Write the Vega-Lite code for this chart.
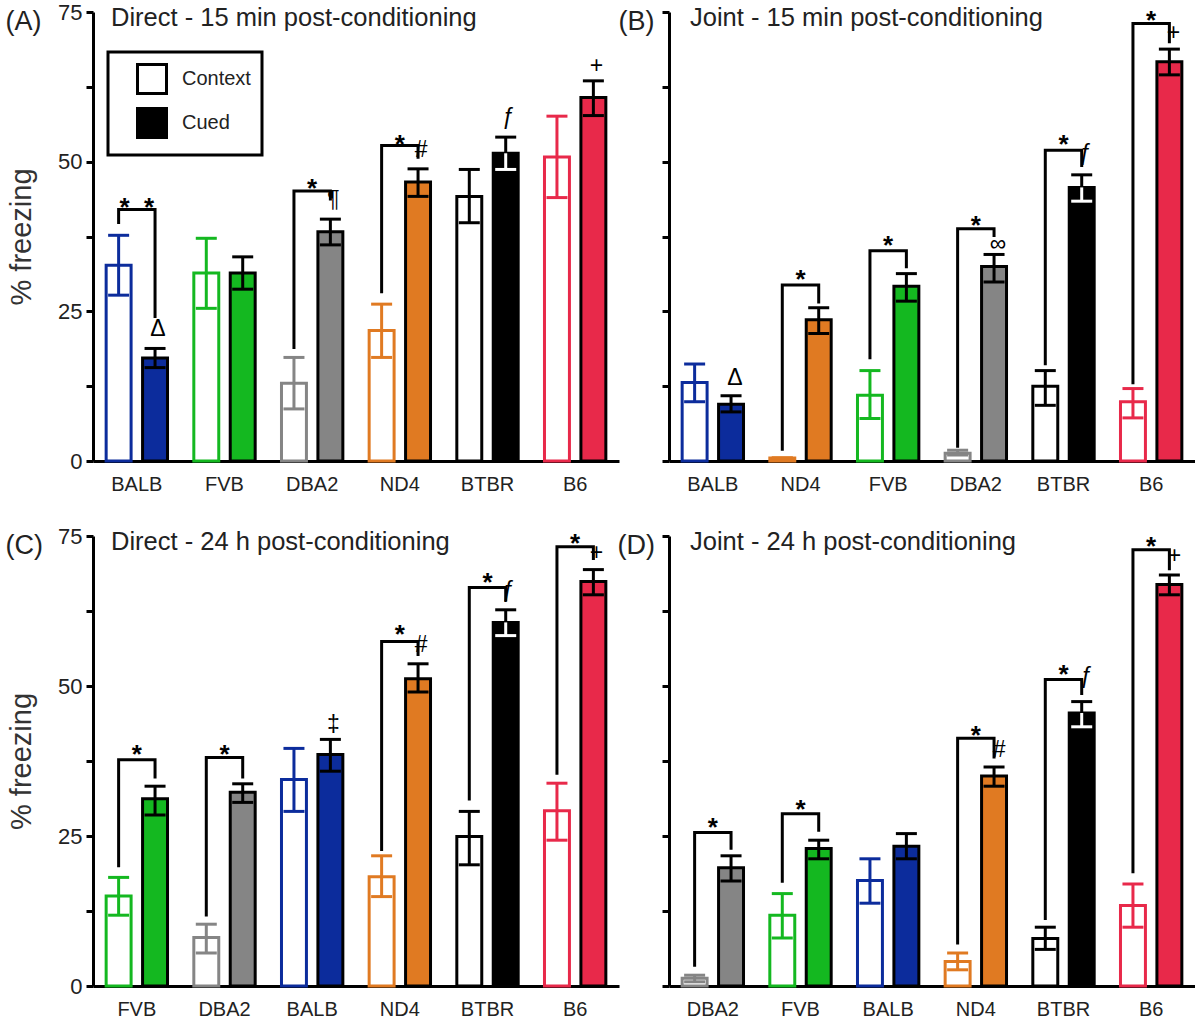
{
  "$schema": "https://vega.github.io/schema/vega-lite/v6.json",
  "padding": {"left": 5, "top": 1, "right": 0, "bottom": 0},
  "background": "white",
  "config": {
    "font": "Liberation Sans",
    "view": {"stroke": null},
    "axisY": {"labelExpr": "datum.value % 25 === 0 ? datum.label : ''", "tickSize": 7, "tickWidth": 3, "tickColor": "black", "domainColor": "black", "domainWidth": 3, "labelFontSize": 22, "labelColor": "#222", "labelPadding": 4, "grid": false, "titleFontSize": 29, "titleFontWeight": "normal", "titleColor": "#333", "titlePadding": 21},
    "axisX": {"ticks": false, "tickSize": 0, "domainColor": "black", "domainWidth": 3, "labelFontSize": 20, "labelColor": "#222", "labelPadding": 13, "labelAngle": 0, "grid": false, "titleFontSize": 27, "titleFontWeight": "normal", "titleColor": "#222", "titleAngle": 0, "titleAlign": "left", "titleBaseline": "alphabetic", "titleY": -432},
    "title": {"anchor": "start", "frame": "group", "fontSize": 25.5, "fontWeight": "normal", "color": "#222"}
  },
  "datasets": {
    "bars": [
      {"panel": "A", "strain": "BALB", "cond": "Context", "mean": 32.7, "lo": 27.7, "hi": 37.7},
      {"panel": "A", "strain": "BALB", "cond": "Cued", "mean": 17.2, "lo": 15.6, "hi": 18.8},
      {"panel": "A", "strain": "FVB", "cond": "Context", "mean": 31.4, "lo": 25.5, "hi": 37.2},
      {"panel": "A", "strain": "FVB", "cond": "Cued", "mean": 31.4, "lo": 28.7, "hi": 34.1},
      {"panel": "A", "strain": "DBA2", "cond": "Context", "mean": 13.0, "lo": 8.7, "hi": 17.3},
      {"panel": "A", "strain": "DBA2", "cond": "Cued", "mean": 38.3, "lo": 36.1, "hi": 40.4},
      {"panel": "A", "strain": "ND4", "cond": "Context", "mean": 21.8, "lo": 17.3, "hi": 26.2},
      {"panel": "A", "strain": "ND4", "cond": "Cued", "mean": 46.6, "lo": 44.2, "hi": 48.8},
      {"panel": "A", "strain": "BTBR", "cond": "Context", "mean": 44.2, "lo": 39.8, "hi": 48.7},
      {"panel": "A", "strain": "BTBR", "cond": "Cued", "mean": 51.4, "lo": 48.7, "hi": 54.1},
      {"panel": "A", "strain": "B6", "cond": "Context", "mean": 50.8, "lo": 44.0, "hi": 57.6},
      {"panel": "A", "strain": "B6", "cond": "Cued", "mean": 60.7, "lo": 57.7, "hi": 63.5},
      {"panel": "B", "strain": "BALB", "cond": "Context", "mean": 13.1, "lo": 9.9, "hi": 16.2},
      {"panel": "B", "strain": "BALB", "cond": "Cued", "mean": 9.5, "lo": 8.2, "hi": 10.9},
      {"panel": "B", "strain": "ND4", "cond": "Context", "mean": 0.5, "lo": 0.5, "hi": 0.5},
      {"panel": "B", "strain": "ND4", "cond": "Cued", "mean": 23.6, "lo": 21.3, "hi": 25.6},
      {"panel": "B", "strain": "FVB", "cond": "Context", "mean": 11.0, "lo": 7.1, "hi": 15.1},
      {"panel": "B", "strain": "FVB", "cond": "Cued", "mean": 29.2, "lo": 26.7, "hi": 31.3},
      {"panel": "B", "strain": "DBA2", "cond": "Context", "mean": 1.3, "lo": 1.0, "hi": 1.8},
      {"panel": "B", "strain": "DBA2", "cond": "Cued", "mean": 32.5, "lo": 29.9, "hi": 34.5},
      {"panel": "B", "strain": "BTBR", "cond": "Context", "mean": 12.5, "lo": 9.3, "hi": 15.1},
      {"panel": "B", "strain": "BTBR", "cond": "Cued", "mean": 45.7, "lo": 43.4, "hi": 47.8},
      {"panel": "B", "strain": "B6", "cond": "Context", "mean": 9.9, "lo": 7.2, "hi": 12.1},
      {"panel": "B", "strain": "B6", "cond": "Cued", "mean": 66.7, "lo": 64.5, "hi": 68.8},
      {"panel": "C", "strain": "FVB", "cond": "Context", "mean": 15.0, "lo": 11.8, "hi": 18.1},
      {"panel": "C", "strain": "FVB", "cond": "Cued", "mean": 31.2, "lo": 28.5, "hi": 33.3},
      {"panel": "C", "strain": "DBA2", "cond": "Context", "mean": 8.1, "lo": 5.5, "hi": 10.3},
      {"panel": "C", "strain": "DBA2", "cond": "Cued", "mean": 32.3, "lo": 30.6, "hi": 33.7},
      {"panel": "C", "strain": "BALB", "cond": "Context", "mean": 34.4, "lo": 29.1, "hi": 39.6},
      {"panel": "C", "strain": "BALB", "cond": "Cued", "mean": 38.6, "lo": 35.8, "hi": 41.1},
      {"panel": "C", "strain": "ND4", "cond": "Context", "mean": 18.2, "lo": 14.9, "hi": 21.7},
      {"panel": "C", "strain": "ND4", "cond": "Cued", "mean": 51.2, "lo": 49.0, "hi": 53.7},
      {"panel": "C", "strain": "BTBR", "cond": "Context", "mean": 24.9, "lo": 20.2, "hi": 29.1},
      {"panel": "C", "strain": "BTBR", "cond": "Cued", "mean": 60.6, "lo": 58.4, "hi": 62.7},
      {"panel": "C", "strain": "B6", "cond": "Context", "mean": 29.2, "lo": 24.3, "hi": 33.8},
      {"panel": "C", "strain": "B6", "cond": "Cued", "mean": 67.4, "lo": 65.2, "hi": 69.4},
      {"panel": "D", "strain": "DBA2", "cond": "Context", "mean": 1.3, "lo": 0.7, "hi": 1.8},
      {"panel": "D", "strain": "DBA2", "cond": "Cued", "mean": 19.7, "lo": 17.5, "hi": 21.7},
      {"panel": "D", "strain": "FVB", "cond": "Context", "mean": 11.8, "lo": 8.0, "hi": 15.4},
      {"panel": "D", "strain": "FVB", "cond": "Cued", "mean": 22.9, "lo": 21.2, "hi": 24.3},
      {"panel": "D", "strain": "BALB", "cond": "Context", "mean": 17.6, "lo": 13.8, "hi": 21.2},
      {"panel": "D", "strain": "BALB", "cond": "Cued", "mean": 23.3, "lo": 21.2, "hi": 25.4},
      {"panel": "D", "strain": "ND4", "cond": "Context", "mean": 4.1, "lo": 2.7, "hi": 5.5},
      {"panel": "D", "strain": "ND4", "cond": "Cued", "mean": 35.0, "lo": 33.3, "hi": 36.5},
      {"panel": "D", "strain": "BTBR", "cond": "Context", "mean": 7.9, "lo": 6.1, "hi": 9.8},
      {"panel": "D", "strain": "BTBR", "cond": "Cued", "mean": 45.5, "lo": 43.2, "hi": 47.4},
      {"panel": "D", "strain": "B6", "cond": "Context", "mean": 13.4, "lo": 9.8, "hi": 17.0},
      {"panel": "D", "strain": "B6", "cond": "Cued", "mean": 66.9, "lo": 65.2, "hi": 68.5}
    ],
    "brackets": [
      {"panel": "A", "strain": "BALB", "pt": 1, "cond": "Context", "y": 39.6},
      {"panel": "A", "strain": "BALB", "pt": 2, "cond": "Context", "y": 42.0},
      {"panel": "A", "strain": "BALB", "pt": 3, "cond": "Cued", "y": 42.0},
      {"panel": "A", "strain": "BALB", "pt": 4, "cond": "Cued", "y": 23.9},
      {"panel": "A", "strain": "DBA2", "pt": 1, "cond": "Context", "y": 18.7},
      {"panel": "A", "strain": "DBA2", "pt": 2, "cond": "Context", "y": 45.1},
      {"panel": "A", "strain": "DBA2", "pt": 3, "cond": "Cued", "y": 45.1},
      {"panel": "A", "strain": "DBA2", "pt": 4, "cond": "Cued", "y": 43.5},
      {"panel": "A", "strain": "ND4", "pt": 1, "cond": "Context", "y": 28.0},
      {"panel": "A", "strain": "ND4", "pt": 2, "cond": "Context", "y": 52.7},
      {"panel": "A", "strain": "ND4", "pt": 3, "cond": "Cued", "y": 52.7},
      {"panel": "A", "strain": "ND4", "pt": 4, "cond": "Cued", "y": 50.5},
      {"panel": "B", "strain": "ND4", "pt": 1, "cond": "Context", "y": 1.7},
      {"panel": "B", "strain": "ND4", "pt": 2, "cond": "Context", "y": 29.4},
      {"panel": "B", "strain": "ND4", "pt": 3, "cond": "Cued", "y": 29.4},
      {"panel": "B", "strain": "ND4", "pt": 4, "cond": "Cued", "y": 26.3},
      {"panel": "B", "strain": "FVB", "pt": 1, "cond": "Context", "y": 17.0},
      {"panel": "B", "strain": "FVB", "pt": 2, "cond": "Context", "y": 35.1},
      {"panel": "B", "strain": "FVB", "pt": 3, "cond": "Cued", "y": 35.1},
      {"panel": "B", "strain": "FVB", "pt": 4, "cond": "Cued", "y": 32.2},
      {"panel": "B", "strain": "DBA2", "pt": 1, "cond": "Context", "y": 2.2},
      {"panel": "B", "strain": "DBA2", "pt": 2, "cond": "Context", "y": 38.8},
      {"panel": "B", "strain": "DBA2", "pt": 3, "cond": "Cued", "y": 38.8},
      {"panel": "B", "strain": "DBA2", "pt": 4, "cond": "Cued", "y": 37.4},
      {"panel": "B", "strain": "BTBR", "pt": 1, "cond": "Context", "y": 16.0},
      {"panel": "B", "strain": "BTBR", "pt": 2, "cond": "Context", "y": 51.9},
      {"panel": "B", "strain": "BTBR", "pt": 3, "cond": "Cued", "y": 51.9},
      {"panel": "B", "strain": "BTBR", "pt": 4, "cond": "Cued", "y": 49.1},
      {"panel": "B", "strain": "B6", "pt": 1, "cond": "Context", "y": 12.8},
      {"panel": "B", "strain": "B6", "pt": 2, "cond": "Context", "y": 73.1},
      {"panel": "B", "strain": "B6", "pt": 3, "cond": "Cued", "y": 73.1},
      {"panel": "B", "strain": "B6", "pt": 4, "cond": "Cued", "y": 69.8},
      {"panel": "C", "strain": "FVB", "pt": 1, "cond": "Context", "y": 19.8},
      {"panel": "C", "strain": "FVB", "pt": 2, "cond": "Context", "y": 37.7},
      {"panel": "C", "strain": "FVB", "pt": 3, "cond": "Cued", "y": 37.7},
      {"panel": "C", "strain": "FVB", "pt": 4, "cond": "Cued", "y": 34.6},
      {"panel": "C", "strain": "DBA2", "pt": 1, "cond": "Context", "y": 11.6},
      {"panel": "C", "strain": "DBA2", "pt": 2, "cond": "Context", "y": 38.1},
      {"panel": "C", "strain": "DBA2", "pt": 3, "cond": "Cued", "y": 38.1},
      {"panel": "C", "strain": "DBA2", "pt": 4, "cond": "Cued", "y": 34.6},
      {"panel": "C", "strain": "ND4", "pt": 1, "cond": "Context", "y": 22.5},
      {"panel": "C", "strain": "ND4", "pt": 2, "cond": "Context", "y": 57.4},
      {"panel": "C", "strain": "ND4", "pt": 3, "cond": "Cued", "y": 57.4},
      {"panel": "C", "strain": "ND4", "pt": 4, "cond": "Cued", "y": 55.0},
      {"panel": "C", "strain": "BTBR", "pt": 1, "cond": "Context", "y": 30.9},
      {"panel": "C", "strain": "BTBR", "pt": 2, "cond": "Context", "y": 66.4},
      {"panel": "C", "strain": "BTBR", "pt": 3, "cond": "Cued", "y": 66.4},
      {"panel": "C", "strain": "BTBR", "pt": 4, "cond": "Cued", "y": 64.1},
      {"panel": "C", "strain": "B6", "pt": 1, "cond": "Context", "y": 35.2},
      {"panel": "C", "strain": "B6", "pt": 2, "cond": "Context", "y": 73.2},
      {"panel": "C", "strain": "B6", "pt": 3, "cond": "Cued", "y": 73.2},
      {"panel": "C", "strain": "B6", "pt": 4, "cond": "Cued", "y": 71.0},
      {"panel": "D", "strain": "DBA2", "pt": 1, "cond": "Context", "y": 3.2},
      {"panel": "D", "strain": "DBA2", "pt": 2, "cond": "Context", "y": 25.6},
      {"panel": "D", "strain": "DBA2", "pt": 3, "cond": "Cued", "y": 25.6},
      {"panel": "D", "strain": "DBA2", "pt": 4, "cond": "Cued", "y": 22.7},
      {"panel": "D", "strain": "FVB", "pt": 1, "cond": "Context", "y": 17.2},
      {"panel": "D", "strain": "FVB", "pt": 2, "cond": "Context", "y": 28.7},
      {"panel": "D", "strain": "FVB", "pt": 3, "cond": "Cued", "y": 28.7},
      {"panel": "D", "strain": "FVB", "pt": 4, "cond": "Cued", "y": 25.7},
      {"panel": "D", "strain": "ND4", "pt": 1, "cond": "Context", "y": 6.9},
      {"panel": "D", "strain": "ND4", "pt": 2, "cond": "Context", "y": 41.3},
      {"panel": "D", "strain": "ND4", "pt": 3, "cond": "Cued", "y": 41.3},
      {"panel": "D", "strain": "ND4", "pt": 4, "cond": "Cued", "y": 37.9},
      {"panel": "D", "strain": "BTBR", "pt": 1, "cond": "Context", "y": 11.0},
      {"panel": "D", "strain": "BTBR", "pt": 2, "cond": "Context", "y": 51.1},
      {"panel": "D", "strain": "BTBR", "pt": 3, "cond": "Cued", "y": 51.1},
      {"panel": "D", "strain": "BTBR", "pt": 4, "cond": "Cued", "y": 48.5},
      {"panel": "D", "strain": "B6", "pt": 1, "cond": "Context", "y": 18.8},
      {"panel": "D", "strain": "B6", "pt": 2, "cond": "Context", "y": 72.7},
      {"panel": "D", "strain": "B6", "pt": 3, "cond": "Cued", "y": 72.7},
      {"panel": "D", "strain": "B6", "pt": 4, "cond": "Cued", "y": 69.3}
    ],
    "stars": [
      {"panel": "A", "strain": "BALB", "label": "*\u00a0\u00a0*", "y": 43.6},
      {"panel": "A", "strain": "DBA2", "label": "*", "y": 46.7},
      {"panel": "A", "strain": "ND4", "label": "*", "y": 54.2},
      {"panel": "B", "strain": "ND4", "label": "*", "y": 31.6},
      {"panel": "B", "strain": "FVB", "label": "*", "y": 37.2},
      {"panel": "B", "strain": "DBA2", "label": "*", "y": 40.6},
      {"panel": "B", "strain": "BTBR", "label": "*", "y": 54.1},
      {"panel": "B", "strain": "B6", "label": "*", "y": 74.8},
      {"panel": "C", "strain": "FVB", "label": "*", "y": 39.9},
      {"panel": "C", "strain": "DBA2", "label": "*", "y": 39.8},
      {"panel": "C", "strain": "ND4", "label": "*", "y": 59.8},
      {"panel": "C", "strain": "BTBR", "label": "*", "y": 68.5},
      {"panel": "C", "strain": "B6", "label": "*", "y": 75.0},
      {"panel": "D", "strain": "DBA2", "label": "*", "y": 27.7},
      {"panel": "D", "strain": "FVB", "label": "*", "y": 30.7},
      {"panel": "D", "strain": "ND4", "label": "*", "y": 43.0},
      {"panel": "D", "strain": "BTBR", "label": "*", "y": 53.2},
      {"panel": "D", "strain": "B6", "label": "*", "y": 74.5}
    ],
    "syms": [
      {"panel": "A", "strain": "BALB", "cond": "Cued", "label": "Δ", "y": 22.0},
      {"panel": "A", "strain": "DBA2", "cond": "Cued", "label": "¶", "y": 43.6},
      {"panel": "A", "strain": "ND4", "cond": "Cued", "label": "#", "y": 51.9},
      {"panel": "A", "strain": "BTBR", "cond": "Cued", "label": "ƒ", "y": 57.5},
      {"panel": "A", "strain": "B6", "cond": "Cued", "label": "+", "y": 66.0},
      {"panel": "B", "strain": "BALB", "cond": "Cued", "label": "Δ", "y": 13.8},
      {"panel": "B", "strain": "DBA2", "cond": "Cued", "label": "∞", "y": 36.2},
      {"panel": "B", "strain": "BTBR", "cond": "Cued", "label": "ƒ", "y": 51.4},
      {"panel": "B", "strain": "B6", "cond": "Cued", "label": "+", "y": 71.5},
      {"panel": "C", "strain": "BALB", "cond": "Cued", "label": "‡", "y": 43.5},
      {"panel": "C", "strain": "ND4", "cond": "Cued", "label": "#", "y": 56.9},
      {"panel": "C", "strain": "BTBR", "cond": "Cued", "label": "ƒ", "y": 66.0},
      {"panel": "C", "strain": "B6", "cond": "Cued", "label": "+", "y": 72.1},
      {"panel": "D", "strain": "ND4", "cond": "Cued", "label": "#", "y": 39.3},
      {"panel": "D", "strain": "BTBR", "cond": "Cued", "label": "ƒ", "y": 51.6},
      {"panel": "D", "strain": "B6", "cond": "Cued", "label": "+", "y": 71.6}
    ]
  },
  "vconcat": [
    {
      "hconcat": [
        {
          "width": 526, "height": 449,
          "title": {"text": "Direct - 15 min post-conditioning", "dx": 18, "offset": -30},
          "encoding": {"x": {"field": "strain", "type": "nominal", "title": "(A)", "axis": {"titleX": -88}, "scale": {"domain": ["BALB", "FVB", "DBA2", "ND4", "BTBR", "B6"], "paddingInner": 0.3, "paddingOuter": 0.15}}},
          "layer": [
            {"data": {"name": "bars"}, "transform": [{"filter": "datum.panel === 'A' && datum.cond === 'Context'"}],
             "mark": {"type": "bar", "fill": "white", "strokeWidth": 3},
             "encoding": {"xOffset": {"field": "cond", "type": "nominal", "scale": {"domain": ["Context", "Cued"], "paddingInner": 0.315, "paddingOuter": 0}},
               "y": {"field": "mean", "type": "quantitative", "scale": {"domain": [0, 75], "nice": false}, "axis": {"values": [0, 12.5, 25, 37.5, 50, 62.5, 75], "title": "% freezing"}},
               "stroke": {"field": "strain", "type": "nominal", "scale": {"domain": ["BALB", "FVB", "DBA2", "ND4", "BTBR", "B6"], "range": ["#0c2c9c", "#14b820", "#858585", "#e07a22", "#000000", "#e8294a"]}, "legend": null}}},
            {"data": {"name": "bars"}, "transform": [{"filter": "datum.panel === 'A' && datum.cond === 'Cued'"}],
             "mark": {"type": "bar", "stroke": "black", "strokeWidth": 3},
             "encoding": {"xOffset": {"field": "cond", "type": "nominal", "scale": {"domain": ["Context", "Cued"], "paddingInner": 0.315, "paddingOuter": 0}},
               "y": {"field": "mean", "type": "quantitative", "scale": {"domain": [0, 75], "nice": false}, "axis": {"values": [0, 12.5, 25, 37.5, 50, 62.5, 75], "title": "% freezing"}},
               "fill": {"field": "strain", "type": "nominal", "scale": {"domain": ["BALB", "FVB", "DBA2", "ND4", "BTBR", "B6"], "range": ["#0c2c9c", "#14b820", "#858585", "#e07a22", "#000000", "#e8294a"]}, "legend": null}}},
            {"data": {"name": "bars"}, "transform": [{"filter": "datum.panel === 'A'"}],
             "mark": {"type": "rule", "strokeWidth": 3},
             "encoding": {"xOffset": {"field": "cond", "type": "nominal", "scale": {"domain": ["Context", "Cued"], "paddingInner": 0.315, "paddingOuter": 0}},
               "y": {"field": "hi", "type": "quantitative", "scale": {"domain": [0, 75], "nice": false}, "axis": {"values": [0, 12.5, 25, 37.5, 50, 62.5, 75], "title": "% freezing"}},
               "y2": {"field": "mean"},
               "stroke": {"condition": {"test": "datum.cond === 'Cued'", "value": "black"}, "field": "strain", "type": "nominal", "legend": null}}},
            {"data": {"name": "bars"}, "transform": [{"filter": "datum.panel === 'A'"}],
             "mark": {"type": "rule", "strokeWidth": 3},
             "encoding": {"xOffset": {"field": "cond", "type": "nominal", "scale": {"domain": ["Context", "Cued"], "paddingInner": 0.315, "paddingOuter": 0}},
               "y": {"field": "mean", "type": "quantitative", "scale": {"domain": [0, 75], "nice": false}, "axis": {"values": [0, 12.5, 25, 37.5, 50, 62.5, 75], "title": "% freezing"}},
               "y2": {"field": "lo"},
               "stroke": {"condition": [{"test": "datum.cond === 'Cued' && datum.strain === 'BTBR'", "value": "white"}, {"test": "datum.cond === 'Cued'", "value": "black"}], "field": "strain", "type": "nominal", "legend": null}}},
            {"data": {"name": "bars"}, "transform": [{"filter": "datum.panel === 'A'"}],
             "mark": {"type": "point", "shape": "M-1,0L1,0", "size": 441, "strokeWidth": 3, "filled": false, "opacity": 1},
             "encoding": {"xOffset": {"field": "cond", "type": "nominal", "scale": {"domain": ["Context", "Cued"], "paddingInner": 0.315, "paddingOuter": 0}},
               "y": {"field": "hi", "type": "quantitative", "scale": {"domain": [0, 75], "nice": false}, "axis": {"values": [0, 12.5, 25, 37.5, 50, 62.5, 75], "title": "% freezing"}},
               "stroke": {"condition": {"test": "datum.cond === 'Cued'", "value": "black"}, "field": "strain", "type": "nominal", "legend": null}}},
            {"data": {"name": "bars"}, "transform": [{"filter": "datum.panel === 'A'"}],
             "mark": {"type": "point", "shape": "M-1,0L1,0", "size": 441, "strokeWidth": 3, "filled": false, "opacity": 1},
             "encoding": {"xOffset": {"field": "cond", "type": "nominal", "scale": {"domain": ["Context", "Cued"], "paddingInner": 0.315, "paddingOuter": 0}},
               "y": {"field": "lo", "type": "quantitative", "scale": {"domain": [0, 75], "nice": false}, "axis": {"values": [0, 12.5, 25, 37.5, 50, 62.5, 75], "title": "% freezing"}},
               "stroke": {"condition": [{"test": "datum.cond === 'Cued' && datum.strain === 'BTBR'", "value": "white"}, {"test": "datum.cond === 'Cued'", "value": "black"}], "field": "strain", "type": "nominal", "legend": null}}},
            {"data": {"name": "brackets"}, "transform": [{"filter": "datum.panel === 'A'"}],
             "mark": {"type": "line", "stroke": "black", "strokeWidth": 3, "strokeJoin": "miter"},
             "encoding": {"xOffset": {"field": "cond", "type": "nominal", "scale": {"domain": ["Context", "Cued"], "paddingInner": 0.315, "paddingOuter": 0}},
               "y": {"field": "y", "type": "quantitative", "scale": {"domain": [0, 75], "nice": false}, "axis": {"values": [0, 12.5, 25, 37.5, 50, 62.5, 75], "title": "% freezing"}},
               "detail": {"field": "strain"}, "order": {"field": "pt", "type": "quantitative"}}},
            {"data": {"name": "stars"}, "transform": [{"filter": "datum.panel === 'A'"}],
             "mark": {"type": "text", "fontSize": 26, "fontWeight": "bold", "baseline": "middle", "dy": 8, "fill": "black"},
             "encoding": {"y": {"field": "y", "type": "quantitative", "scale": {"domain": [0, 75], "nice": false}, "axis": {"values": [0, 12.5, 25, 37.5, 50, 62.5, 75], "title": "% freezing"}},
               "text": {"field": "label"}}},
            {"data": {"name": "syms"}, "transform": [{"filter": "datum.panel === 'A'"}],
             "mark": {"type": "text", "fontSize": 23, "baseline": "middle", "dx": 3, "fill": "black"},
             "encoding": {"xOffset": {"field": "cond", "type": "nominal", "scale": {"domain": ["Context", "Cued"], "paddingInner": 0.315, "paddingOuter": 0}},
               "y": {"field": "y", "type": "quantitative", "scale": {"domain": [0, 75], "nice": false}, "axis": {"values": [0, 12.5, 25, 37.5, 50, 62.5, 75], "title": "% freezing"}},
               "text": {"field": "label"}}},
            {"data": {"name": "bars"}, "transform": [{"filter": "datum.panel === 'A'"}],
             "mark": {"type": "point", "filled": true, "opacity": 0, "shape": "square"},
             "encoding": {"color": {"field": "cond", "type": "nominal", "scale": {"domain": ["Context", "Cued"], "range": ["white", "black"]},
               "legend": {"title": null, "orient": "none", "legendX": 15, "legendY": 40, "symbolType": "square", "symbolSize": 841, "symbolStrokeColor": "black", "symbolStrokeWidth": 3, "symbolOpacity": 1, "symbolOffset": 17, "labelFontSize": 20, "labelColor": "#222", "labelOffset": 14, "rowPadding": 2, "padding": 11, "strokeColor": "black", "labelLimit": 300, "encode": {"legend": {"update": {"strokeWidth": {"value": 3}}}}}}}}
          ]
        },
        {
          "width": 526, "height": 449,
          "title": {"text": "Joint - 15 min post-conditioning", "dx": 21, "offset": -24},
          "encoding": {"x": {"field": "strain", "type": "nominal", "title": "(B)", "axis": {"titleX": -51}, "scale": {"domain": ["BALB", "ND4", "FVB", "DBA2", "BTBR", "B6"], "paddingInner": 0.3, "paddingOuter": 0.15}}},
          "layer": [
            {"data": {"name": "bars"}, "transform": [{"filter": "datum.panel === 'B' && datum.cond === 'Context'"}],
             "mark": {"type": "bar", "fill": "white", "strokeWidth": 3},
             "encoding": {"xOffset": {"field": "cond", "type": "nominal", "scale": {"domain": ["Context", "Cued"], "paddingInner": 0.315, "paddingOuter": 0}},
               "y": {"field": "mean", "type": "quantitative", "scale": {"domain": [0, 75], "nice": false}, "axis": {"values": [0, 12.5, 25, 37.5, 50, 62.5, 75], "title": null, "labels": false}},
               "stroke": {"field": "strain", "type": "nominal", "scale": {"domain": ["BALB", "FVB", "DBA2", "ND4", "BTBR", "B6"], "range": ["#0c2c9c", "#14b820", "#858585", "#e07a22", "#000000", "#e8294a"]}, "legend": null}}},
            {"data": {"name": "bars"}, "transform": [{"filter": "datum.panel === 'B' && datum.cond === 'Cued'"}],
             "mark": {"type": "bar", "stroke": "black", "strokeWidth": 3},
             "encoding": {"xOffset": {"field": "cond", "type": "nominal", "scale": {"domain": ["Context", "Cued"], "paddingInner": 0.315, "paddingOuter": 0}},
               "y": {"field": "mean", "type": "quantitative", "scale": {"domain": [0, 75], "nice": false}, "axis": {"values": [0, 12.5, 25, 37.5, 50, 62.5, 75], "title": null, "labels": false}},
               "fill": {"field": "strain", "type": "nominal", "scale": {"domain": ["BALB", "FVB", "DBA2", "ND4", "BTBR", "B6"], "range": ["#0c2c9c", "#14b820", "#858585", "#e07a22", "#000000", "#e8294a"]}, "legend": null}}},
            {"data": {"name": "bars"}, "transform": [{"filter": "datum.panel === 'B'"}],
             "mark": {"type": "rule", "strokeWidth": 3},
             "encoding": {"xOffset": {"field": "cond", "type": "nominal", "scale": {"domain": ["Context", "Cued"], "paddingInner": 0.315, "paddingOuter": 0}},
               "y": {"field": "hi", "type": "quantitative", "scale": {"domain": [0, 75], "nice": false}, "axis": {"values": [0, 12.5, 25, 37.5, 50, 62.5, 75], "title": null, "labels": false}},
               "y2": {"field": "mean"},
               "stroke": {"condition": {"test": "datum.cond === 'Cued'", "value": "black"}, "field": "strain", "type": "nominal", "legend": null}}},
            {"data": {"name": "bars"}, "transform": [{"filter": "datum.panel === 'B'"}],
             "mark": {"type": "rule", "strokeWidth": 3},
             "encoding": {"xOffset": {"field": "cond", "type": "nominal", "scale": {"domain": ["Context", "Cued"], "paddingInner": 0.315, "paddingOuter": 0}},
               "y": {"field": "mean", "type": "quantitative", "scale": {"domain": [0, 75], "nice": false}, "axis": {"values": [0, 12.5, 25, 37.5, 50, 62.5, 75], "title": null, "labels": false}},
               "y2": {"field": "lo"},
               "stroke": {"condition": [{"test": "datum.cond === 'Cued' && datum.strain === 'BTBR'", "value": "white"}, {"test": "datum.cond === 'Cued'", "value": "black"}], "field": "strain", "type": "nominal", "legend": null}}},
            {"data": {"name": "bars"}, "transform": [{"filter": "datum.panel === 'B'"}],
             "mark": {"type": "point", "shape": "M-1,0L1,0", "size": 441, "strokeWidth": 3, "filled": false, "opacity": 1},
             "encoding": {"xOffset": {"field": "cond", "type": "nominal", "scale": {"domain": ["Context", "Cued"], "paddingInner": 0.315, "paddingOuter": 0}},
               "y": {"field": "hi", "type": "quantitative", "scale": {"domain": [0, 75], "nice": false}, "axis": {"values": [0, 12.5, 25, 37.5, 50, 62.5, 75], "title": null, "labels": false}},
               "stroke": {"condition": {"test": "datum.cond === 'Cued'", "value": "black"}, "field": "strain", "type": "nominal", "legend": null}}},
            {"data": {"name": "bars"}, "transform": [{"filter": "datum.panel === 'B'"}],
             "mark": {"type": "point", "shape": "M-1,0L1,0", "size": 441, "strokeWidth": 3, "filled": false, "opacity": 1},
             "encoding": {"xOffset": {"field": "cond", "type": "nominal", "scale": {"domain": ["Context", "Cued"], "paddingInner": 0.315, "paddingOuter": 0}},
               "y": {"field": "lo", "type": "quantitative", "scale": {"domain": [0, 75], "nice": false}, "axis": {"values": [0, 12.5, 25, 37.5, 50, 62.5, 75], "title": null, "labels": false}},
               "stroke": {"condition": [{"test": "datum.cond === 'Cued' && datum.strain === 'BTBR'", "value": "white"}, {"test": "datum.cond === 'Cued'", "value": "black"}], "field": "strain", "type": "nominal", "legend": null}}},
            {"data": {"name": "brackets"}, "transform": [{"filter": "datum.panel === 'B'"}],
             "mark": {"type": "line", "stroke": "black", "strokeWidth": 3, "strokeJoin": "miter"},
             "encoding": {"xOffset": {"field": "cond", "type": "nominal", "scale": {"domain": ["Context", "Cued"], "paddingInner": 0.315, "paddingOuter": 0}},
               "y": {"field": "y", "type": "quantitative", "scale": {"domain": [0, 75], "nice": false}, "axis": {"values": [0, 12.5, 25, 37.5, 50, 62.5, 75], "title": null, "labels": false}},
               "detail": {"field": "strain"}, "order": {"field": "pt", "type": "quantitative"}}},
            {"data": {"name": "stars"}, "transform": [{"filter": "datum.panel === 'B'"}],
             "mark": {"type": "text", "fontSize": 26, "fontWeight": "bold", "baseline": "middle", "dy": 8, "fill": "black"},
             "encoding": {"y": {"field": "y", "type": "quantitative", "scale": {"domain": [0, 75], "nice": false}, "axis": {"values": [0, 12.5, 25, 37.5, 50, 62.5, 75], "title": null, "labels": false}},
               "text": {"field": "label"}}},
            {"data": {"name": "syms"}, "transform": [{"filter": "datum.panel === 'B'"}],
             "mark": {"type": "text", "fontSize": 23, "baseline": "middle", "dx": 4, "fill": "black"},
             "encoding": {"xOffset": {"field": "cond", "type": "nominal", "scale": {"domain": ["Context", "Cued"], "paddingInner": 0.315, "paddingOuter": 0}},
               "y": {"field": "y", "type": "quantitative", "scale": {"domain": [0, 75], "nice": false}, "axis": {"values": [0, 12.5, 25, 37.5, 50, 62.5, 75], "title": null, "labels": false}},
               "text": {"field": "label"}}}
          ]
        }
      ],
      "spacing": 50,
      "bounds": "flush"
    },
    {
      "hconcat": [
        {
          "width": 526, "height": 450,
          "title": {"text": "Direct - 24 h post-conditioning", "dx": 18, "offset": -30},
          "encoding": {"x": {"field": "strain", "type": "nominal", "title": "(C)", "axis": {"titleX": -88, "titleY": -433}, "scale": {"domain": ["FVB", "DBA2", "BALB", "ND4", "BTBR", "B6"], "paddingInner": 0.3, "paddingOuter": 0.15}}},
          "layer": [
            {"data": {"name": "bars"}, "transform": [{"filter": "datum.panel === 'C' && datum.cond === 'Context'"}],
             "mark": {"type": "bar", "fill": "white", "strokeWidth": 3},
             "encoding": {"xOffset": {"field": "cond", "type": "nominal", "scale": {"domain": ["Context", "Cued"], "paddingInner": 0.315, "paddingOuter": 0}},
               "y": {"field": "mean", "type": "quantitative", "scale": {"domain": [0, 75], "nice": false}, "axis": {"values": [0, 12.5, 25, 37.5, 50, 62.5, 75], "title": "% freezing"}},
               "stroke": {"field": "strain", "type": "nominal", "scale": {"domain": ["BALB", "FVB", "DBA2", "ND4", "BTBR", "B6"], "range": ["#0c2c9c", "#14b820", "#858585", "#e07a22", "#000000", "#e8294a"]}, "legend": null}}},
            {"data": {"name": "bars"}, "transform": [{"filter": "datum.panel === 'C' && datum.cond === 'Cued'"}],
             "mark": {"type": "bar", "stroke": "black", "strokeWidth": 3},
             "encoding": {"xOffset": {"field": "cond", "type": "nominal", "scale": {"domain": ["Context", "Cued"], "paddingInner": 0.315, "paddingOuter": 0}},
               "y": {"field": "mean", "type": "quantitative", "scale": {"domain": [0, 75], "nice": false}, "axis": {"values": [0, 12.5, 25, 37.5, 50, 62.5, 75], "title": "% freezing"}},
               "fill": {"field": "strain", "type": "nominal", "scale": {"domain": ["BALB", "FVB", "DBA2", "ND4", "BTBR", "B6"], "range": ["#0c2c9c", "#14b820", "#858585", "#e07a22", "#000000", "#e8294a"]}, "legend": null}}},
            {"data": {"name": "bars"}, "transform": [{"filter": "datum.panel === 'C'"}],
             "mark": {"type": "rule", "strokeWidth": 3},
             "encoding": {"xOffset": {"field": "cond", "type": "nominal", "scale": {"domain": ["Context", "Cued"], "paddingInner": 0.315, "paddingOuter": 0}},
               "y": {"field": "hi", "type": "quantitative", "scale": {"domain": [0, 75], "nice": false}, "axis": {"values": [0, 12.5, 25, 37.5, 50, 62.5, 75], "title": "% freezing"}},
               "y2": {"field": "mean"},
               "stroke": {"condition": {"test": "datum.cond === 'Cued'", "value": "black"}, "field": "strain", "type": "nominal", "legend": null}}},
            {"data": {"name": "bars"}, "transform": [{"filter": "datum.panel === 'C'"}],
             "mark": {"type": "rule", "strokeWidth": 3},
             "encoding": {"xOffset": {"field": "cond", "type": "nominal", "scale": {"domain": ["Context", "Cued"], "paddingInner": 0.315, "paddingOuter": 0}},
               "y": {"field": "mean", "type": "quantitative", "scale": {"domain": [0, 75], "nice": false}, "axis": {"values": [0, 12.5, 25, 37.5, 50, 62.5, 75], "title": "% freezing"}},
               "y2": {"field": "lo"},
               "stroke": {"condition": [{"test": "datum.cond === 'Cued' && datum.strain === 'BTBR'", "value": "white"}, {"test": "datum.cond === 'Cued'", "value": "black"}], "field": "strain", "type": "nominal", "legend": null}}},
            {"data": {"name": "bars"}, "transform": [{"filter": "datum.panel === 'C'"}],
             "mark": {"type": "point", "shape": "M-1,0L1,0", "size": 441, "strokeWidth": 3, "filled": false, "opacity": 1},
             "encoding": {"xOffset": {"field": "cond", "type": "nominal", "scale": {"domain": ["Context", "Cued"], "paddingInner": 0.315, "paddingOuter": 0}},
               "y": {"field": "hi", "type": "quantitative", "scale": {"domain": [0, 75], "nice": false}, "axis": {"values": [0, 12.5, 25, 37.5, 50, 62.5, 75], "title": "% freezing"}},
               "stroke": {"condition": {"test": "datum.cond === 'Cued'", "value": "black"}, "field": "strain", "type": "nominal", "legend": null}}},
            {"data": {"name": "bars"}, "transform": [{"filter": "datum.panel === 'C'"}],
             "mark": {"type": "point", "shape": "M-1,0L1,0", "size": 441, "strokeWidth": 3, "filled": false, "opacity": 1},
             "encoding": {"xOffset": {"field": "cond", "type": "nominal", "scale": {"domain": ["Context", "Cued"], "paddingInner": 0.315, "paddingOuter": 0}},
               "y": {"field": "lo", "type": "quantitative", "scale": {"domain": [0, 75], "nice": false}, "axis": {"values": [0, 12.5, 25, 37.5, 50, 62.5, 75], "title": "% freezing"}},
               "stroke": {"condition": [{"test": "datum.cond === 'Cued' && datum.strain === 'BTBR'", "value": "white"}, {"test": "datum.cond === 'Cued'", "value": "black"}], "field": "strain", "type": "nominal", "legend": null}}},
            {"data": {"name": "brackets"}, "transform": [{"filter": "datum.panel === 'C'"}],
             "mark": {"type": "line", "stroke": "black", "strokeWidth": 3, "strokeJoin": "miter"},
             "encoding": {"xOffset": {"field": "cond", "type": "nominal", "scale": {"domain": ["Context", "Cued"], "paddingInner": 0.315, "paddingOuter": 0}},
               "y": {"field": "y", "type": "quantitative", "scale": {"domain": [0, 75], "nice": false}, "axis": {"values": [0, 12.5, 25, 37.5, 50, 62.5, 75], "title": "% freezing"}},
               "detail": {"field": "strain"}, "order": {"field": "pt", "type": "quantitative"}}},
            {"data": {"name": "stars"}, "transform": [{"filter": "datum.panel === 'C'"}],
             "mark": {"type": "text", "fontSize": 26, "fontWeight": "bold", "baseline": "middle", "dy": 8, "fill": "black"},
             "encoding": {"y": {"field": "y", "type": "quantitative", "scale": {"domain": [0, 75], "nice": false}, "axis": {"values": [0, 12.5, 25, 37.5, 50, 62.5, 75], "title": "% freezing"}},
               "text": {"field": "label"}}},
            {"data": {"name": "syms"}, "transform": [{"filter": "datum.panel === 'C'"}],
             "mark": {"type": "text", "fontSize": 23, "baseline": "middle", "dx": 3, "fill": "black"},
             "encoding": {"xOffset": {"field": "cond", "type": "nominal", "scale": {"domain": ["Context", "Cued"], "paddingInner": 0.315, "paddingOuter": 0}},
               "y": {"field": "y", "type": "quantitative", "scale": {"domain": [0, 75], "nice": false}, "axis": {"values": [0, 12.5, 25, 37.5, 50, 62.5, 75], "title": "% freezing"}},
               "text": {"field": "label"}}}
          ]
        },
        {
          "width": 526, "height": 450,
          "title": {"text": "Joint - 24 h post-conditioning", "dx": 21, "offset": -24},
          "encoding": {"x": {"field": "strain", "type": "nominal", "title": "(D)", "axis": {"titleX": -52, "titleY": -433}, "scale": {"domain": ["DBA2", "FVB", "BALB", "ND4", "BTBR", "B6"], "paddingInner": 0.3, "paddingOuter": 0.15}}},
          "layer": [
            {"data": {"name": "bars"}, "transform": [{"filter": "datum.panel === 'D' && datum.cond === 'Context'"}],
             "mark": {"type": "bar", "fill": "white", "strokeWidth": 3},
             "encoding": {"xOffset": {"field": "cond", "type": "nominal", "scale": {"domain": ["Context", "Cued"], "paddingInner": 0.315, "paddingOuter": 0}},
               "y": {"field": "mean", "type": "quantitative", "scale": {"domain": [0, 75], "nice": false}, "axis": {"values": [0, 12.5, 25, 37.5, 50, 62.5, 75], "title": null, "labels": false}},
               "stroke": {"field": "strain", "type": "nominal", "scale": {"domain": ["BALB", "FVB", "DBA2", "ND4", "BTBR", "B6"], "range": ["#0c2c9c", "#14b820", "#858585", "#e07a22", "#000000", "#e8294a"]}, "legend": null}}},
            {"data": {"name": "bars"}, "transform": [{"filter": "datum.panel === 'D' && datum.cond === 'Cued'"}],
             "mark": {"type": "bar", "stroke": "black", "strokeWidth": 3},
             "encoding": {"xOffset": {"field": "cond", "type": "nominal", "scale": {"domain": ["Context", "Cued"], "paddingInner": 0.315, "paddingOuter": 0}},
               "y": {"field": "mean", "type": "quantitative", "scale": {"domain": [0, 75], "nice": false}, "axis": {"values": [0, 12.5, 25, 37.5, 50, 62.5, 75], "title": null, "labels": false}},
               "fill": {"field": "strain", "type": "nominal", "scale": {"domain": ["BALB", "FVB", "DBA2", "ND4", "BTBR", "B6"], "range": ["#0c2c9c", "#14b820", "#858585", "#e07a22", "#000000", "#e8294a"]}, "legend": null}}},
            {"data": {"name": "bars"}, "transform": [{"filter": "datum.panel === 'D'"}],
             "mark": {"type": "rule", "strokeWidth": 3},
             "encoding": {"xOffset": {"field": "cond", "type": "nominal", "scale": {"domain": ["Context", "Cued"], "paddingInner": 0.315, "paddingOuter": 0}},
               "y": {"field": "hi", "type": "quantitative", "scale": {"domain": [0, 75], "nice": false}, "axis": {"values": [0, 12.5, 25, 37.5, 50, 62.5, 75], "title": null, "labels": false}},
               "y2": {"field": "mean"},
               "stroke": {"condition": {"test": "datum.cond === 'Cued'", "value": "black"}, "field": "strain", "type": "nominal", "legend": null}}},
            {"data": {"name": "bars"}, "transform": [{"filter": "datum.panel === 'D'"}],
             "mark": {"type": "rule", "strokeWidth": 3},
             "encoding": {"xOffset": {"field": "cond", "type": "nominal", "scale": {"domain": ["Context", "Cued"], "paddingInner": 0.315, "paddingOuter": 0}},
               "y": {"field": "mean", "type": "quantitative", "scale": {"domain": [0, 75], "nice": false}, "axis": {"values": [0, 12.5, 25, 37.5, 50, 62.5, 75], "title": null, "labels": false}},
               "y2": {"field": "lo"},
               "stroke": {"condition": [{"test": "datum.cond === 'Cued' && datum.strain === 'BTBR'", "value": "white"}, {"test": "datum.cond === 'Cued'", "value": "black"}], "field": "strain", "type": "nominal", "legend": null}}},
            {"data": {"name": "bars"}, "transform": [{"filter": "datum.panel === 'D'"}],
             "mark": {"type": "point", "shape": "M-1,0L1,0", "size": 441, "strokeWidth": 3, "filled": false, "opacity": 1},
             "encoding": {"xOffset": {"field": "cond", "type": "nominal", "scale": {"domain": ["Context", "Cued"], "paddingInner": 0.315, "paddingOuter": 0}},
               "y": {"field": "hi", "type": "quantitative", "scale": {"domain": [0, 75], "nice": false}, "axis": {"values": [0, 12.5, 25, 37.5, 50, 62.5, 75], "title": null, "labels": false}},
               "stroke": {"condition": {"test": "datum.cond === 'Cued'", "value": "black"}, "field": "strain", "type": "nominal", "legend": null}}},
            {"data": {"name": "bars"}, "transform": [{"filter": "datum.panel === 'D'"}],
             "mark": {"type": "point", "shape": "M-1,0L1,0", "size": 441, "strokeWidth": 3, "filled": false, "opacity": 1},
             "encoding": {"xOffset": {"field": "cond", "type": "nominal", "scale": {"domain": ["Context", "Cued"], "paddingInner": 0.315, "paddingOuter": 0}},
               "y": {"field": "lo", "type": "quantitative", "scale": {"domain": [0, 75], "nice": false}, "axis": {"values": [0, 12.5, 25, 37.5, 50, 62.5, 75], "title": null, "labels": false}},
               "stroke": {"condition": [{"test": "datum.cond === 'Cued' && datum.strain === 'BTBR'", "value": "white"}, {"test": "datum.cond === 'Cued'", "value": "black"}], "field": "strain", "type": "nominal", "legend": null}}},
            {"data": {"name": "brackets"}, "transform": [{"filter": "datum.panel === 'D'"}],
             "mark": {"type": "line", "stroke": "black", "strokeWidth": 3, "strokeJoin": "miter"},
             "encoding": {"xOffset": {"field": "cond", "type": "nominal", "scale": {"domain": ["Context", "Cued"], "paddingInner": 0.315, "paddingOuter": 0}},
               "y": {"field": "y", "type": "quantitative", "scale": {"domain": [0, 75], "nice": false}, "axis": {"values": [0, 12.5, 25, 37.5, 50, 62.5, 75], "title": null, "labels": false}},
               "detail": {"field": "strain"}, "order": {"field": "pt", "type": "quantitative"}}},
            {"data": {"name": "stars"}, "transform": [{"filter": "datum.panel === 'D'"}],
             "mark": {"type": "text", "fontSize": 26, "fontWeight": "bold", "baseline": "middle", "dy": 8, "fill": "black"},
             "encoding": {"y": {"field": "y", "type": "quantitative", "scale": {"domain": [0, 75], "nice": false}, "axis": {"values": [0, 12.5, 25, 37.5, 50, 62.5, 75], "title": null, "labels": false}},
               "text": {"field": "label"}}},
            {"data": {"name": "syms"}, "transform": [{"filter": "datum.panel === 'D'"}],
             "mark": {"type": "text", "fontSize": 23, "baseline": "middle", "dx": 5, "fill": "black"},
             "encoding": {"xOffset": {"field": "cond", "type": "nominal", "scale": {"domain": ["Context", "Cued"], "paddingInner": 0.315, "paddingOuter": 0}},
               "y": {"field": "y", "type": "quantitative", "scale": {"domain": [0, 75], "nice": false}, "axis": {"values": [0, 12.5, 25, 37.5, 50, 62.5, 75], "title": null, "labels": false}},
               "text": {"field": "label"}}}
          ]
        }
      ],
      "spacing": 50,
      "bounds": "flush"
    }
  ],
  "spacing": 31,
  "bounds": "full"
}
